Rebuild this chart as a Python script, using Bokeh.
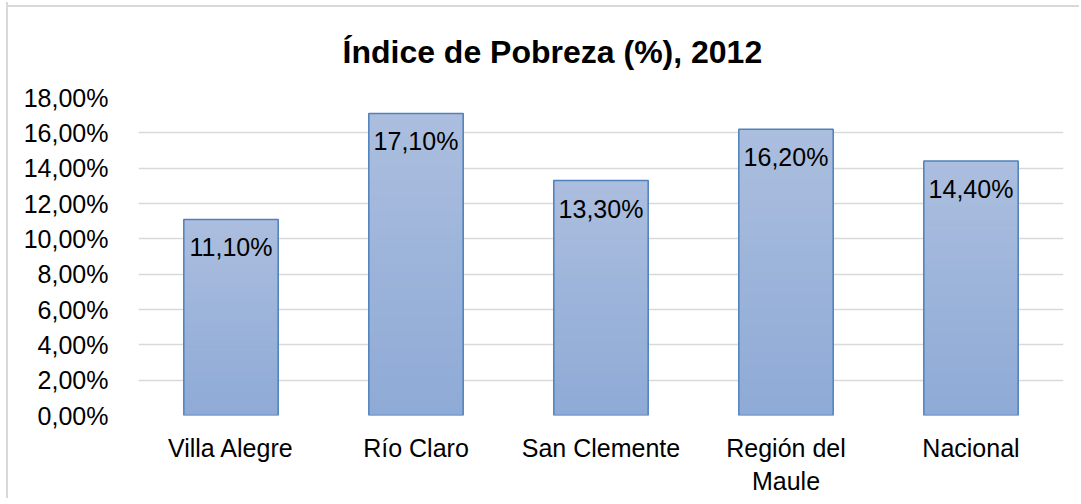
import numpy as np
from bokeh.plotting import figure
from bokeh.models import ColumnDataSource, FactorRange, Range1d, FixedTicker, LabelSet
from bokeh.core.properties import value
from bokeh.embed import file_html
from bokeh.resources import INLINE

# ---- data ----
categories = ["Villa Alegre", "Río Claro", "San Clemente", "Región del\nMaule", "Nacional"]
values = [11.1, 17.1, 13.3, 16.2, 14.4]
y_ticks = [0, 2, 4, 6, 8, 10, 12, 14, 16, 18]
title_text = "Índice de Pobreza (%), 2012"

FONT = "Liberation Sans"
fmt = lambda v: f"{v:.2f}".replace(".", ",") + "%"

p = figure(x_range=FactorRange(*categories, range_padding=0), y_range=Range1d(0, 18),
           width=1073, height=496, output_backend="svg", toolbar_location=None,
           min_border_left=130, min_border_right=18, min_border_top=95, min_border_bottom=82)
p.styles = {"margin-left": "6px", "margin-top": "2px",
            "border-left": "2px solid #d9d9d9",
            "background": "linear-gradient(#d9d9d9, #d9d9d9) left 0px top 3px / 100% 2px no-repeat, white"}
p.outline_line_color = None
p.background_fill_color = "white"
p.border_fill_color = None

p.title.text = title_text
p.title.align = "left"
p.title.offset = 204
p.title.standoff = 55
p.title.text_font = FONT
p.title.text_font_size = "32px"
p.title.text_font_style = "bold"
p.title.text_color = "#000000"

# gradient bars (per bar, light at top, darker at bottom)
top_c = np.array([0xAB, 0xBE, 0xDE])
bot_c = np.array([0x8E, 0xAA, 0xD6])
N = 40
bx, bb, bt, bc = [], [], [], []
for c, v in zip(categories, values):
    for k in range(N):
        t = k / (N - 1)
        col = (bot_c + (top_c - bot_c) * t).round().astype(int)
        bx.append(c)
        bb.append(v * k / N)
        bt.append(v)
        bc.append("#%02x%02x%02x" % tuple(col))
p.vbar(x=bx, bottom=bb, top=bt, width=0.51, fill_color=bc, line_color=None)

src = ColumnDataSource(dict(x=categories, y=values, lab=[fmt(v) for v in values]))
p.vbar(x="x", top="y", bottom=0, width=0.51, source=src, fill_alpha=0,
       line_color="#4f81bd", line_width=1.5)

labels = LabelSet(x="x", y="y", text="lab", source=src, y_offset=-37,
                  text_align="center", text_baseline="alphabetic",
                  text_font=value(FONT), text_font_size="25px", text_color="#000000")
p.add_layout(labels)

# axes
p.yaxis.ticker = FixedTicker(ticks=y_ticks)
p.yaxis.major_label_overrides = {t: fmt(t) for t in y_ticks}
for ax in (p.xaxis[0], p.yaxis[0]):
    ax.axis_line_color = None
    ax.major_tick_line_color = None
    ax.minor_tick_line_color = None
    ax.major_label_text_font = FONT
    ax.major_label_text_font_size = "25px"
    ax.major_label_text_color = "#000000"
p.yaxis.major_label_standoff = 24
p.xaxis.major_label_standoff = 12

p.xgrid.grid_line_color = None
p.ygrid.grid_line_color = "#d9d9d9"
p.ygrid.grid_line_width = 1.5

open("out.html", "w").write(file_html(p, INLINE))
